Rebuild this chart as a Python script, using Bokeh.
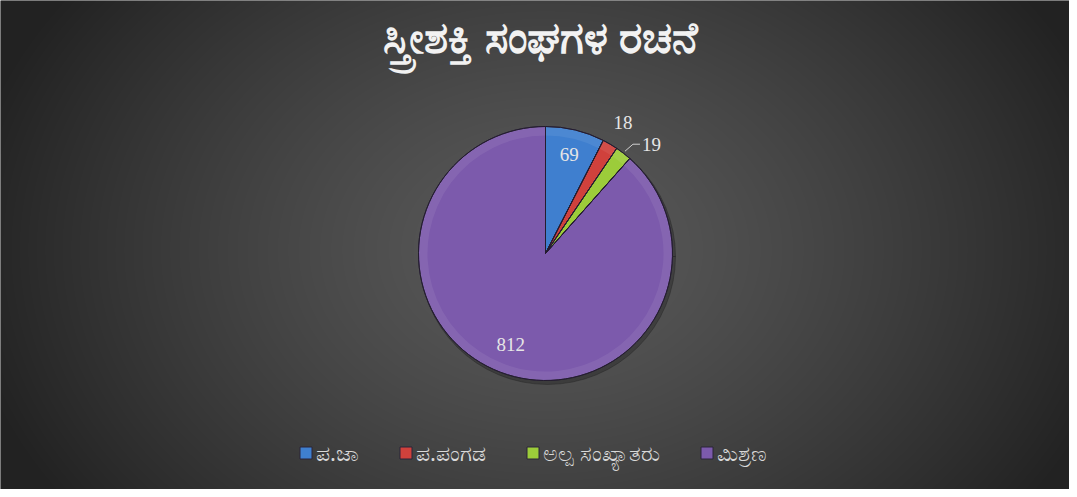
import numpy as np
from bokeh.plotting import figure
from bokeh.models import Range1d, Legend, LegendItem, ColumnDataSource
from bokeh.core.properties import value
from bokeh.embed import file_html
from bokeh.resources import INLINE

# ---- data ----
title_text = "ಸ್ತ್ರೀಶಕ್ತಿ ಸಂಘಗಳ ರಚನೆ"
categories = ["ಪ.ಜಾ", "ಪ.ಪಂಗಡ", "ಅಲ್ಪ ಸಂಖ್ಯಾತರು", "ಮಿಶ್ರಣ"]
counts = [69, 18, 19, 812]
colors = ["#3f7fcf", "#d0413c", "#9ccc3a", "#7c5aac"]

# ---- layout ----
W, H = 1069, 489
cx, cy = 545, 236          # pie centre (px in data units)
R = 127                    # pie radius (px)

p = figure(width=W, height=H, output_backend="svg", toolbar_location=None,
           x_range=Range1d(0, W), y_range=Range1d(0, H), min_border=0,
           outline_line_color=None, background_fill_color="#3a3a3a",
           border_fill_color="#3a3a3a")
p.axis.visible = False
p.grid.visible = False

# radial gradient background
yy, xx = np.mgrid[0:H, 0:W]
r = np.sqrt(((xx - cx) / 560.0) ** 2 + ((yy - (cy + 3)) / 420.0) ** 2)
v = np.clip(90 - 52 * r ** 1.3, 34, 255).astype(np.uint32)
img = (255 << 24) | (v << 16) | (v << 8) | v
p.image_rgba(image=[img.astype(np.uint32)], x=0, y=0, dw=W, dh=H)

# angles (clockwise from 12 o'clock)
total = float(sum(counts))
cum = np.cumsum([0] + counts)
start = [np.pi / 2 - 2 * np.pi * cum[i] / total for i in range(len(counts))]
end = [np.pi / 2 - 2 * np.pi * cum[i + 1] / total for i in range(len(counts))]
mid = [np.pi / 2 - 2 * np.pi * (cum[i] + cum[i + 1]) / 2 / total for i in range(len(counts))]

src = ColumnDataSource(dict(start=start, end=end, color=colors, cat=categories,
                            x=[cx] * 4, y=[cy] * 4))

# soft shadow
p.wedge(x=cx + 2, y=cy - 3, radius=R + 1, start_angle=0, end_angle=2 * np.pi,
        color="#1e1e1e", alpha=0.35)

wedges = p.wedge(x="x", y="y", radius=R, start_angle="start", end_angle="end",
                 direction="clock", fill_color="color", line_color="#2a2438",
                 line_width=1, source=src)
# bevel highlight / rim
p.annular_wedge(x="x", y="y", inner_radius=R - 9, outer_radius=R, start_angle="start",
                end_angle="end", direction="clock", fill_color="white", fill_alpha=0.07,
                line_color=None, source=src)
p.wedge(x="x", y="y", radius=R, start_angle="start", end_angle="end",
        direction="clock", fill_color=None, line_color="#241c30", line_width=1,
        source=src)

# data labels
lab_font = value("Liberation Serif")
inside_r = [0.80, None, None, 0.77]
for i, fr in enumerate(inside_r):
    if fr is not None:
        p.text(x=[cx + fr * R * np.cos(mid[i])], y=[cy + fr * R * np.sin(mid[i])],
               text=[str(counts[i])], text_font=lab_font, text_font_size="19px",
               text_color="#e6e6e6", text_align="center", text_baseline="middle")
# 18 outside
p.text(x=[cx + 1.2 * R * np.cos(mid[1])], y=[cy + 1.2 * R * np.sin(mid[1])],
       text=[str(counts[1])], text_font=lab_font, text_font_size="19px",
       text_color="#e6e6e6", text_align="center", text_baseline="middle")
# 19 outside with leader line
ex, ey = cx + 1.02 * R * np.cos(mid[2]), cy + 1.02 * R * np.sin(mid[2])
p.line(x=[ex, ex + 8, ex + 15], y=[ey, ey + 7, ey + 7], line_color="#cfcfcf", line_width=1)
p.text(x=[ex + 17], y=[ey + 7], text=[str(counts[2])], text_font=lab_font,
       text_font_size="19px", text_color="#e6e6e6", text_align="left",
       text_baseline="middle")

# title
p.text(x=[540], y=[H - 35], text=[title_text], text_font=value("Noto Sans"),
       text_font_size="44px", text_font_style="bold", text_color="#f2f2f2",
       text_align="center", text_baseline="middle")

# legend
items = [LegendItem(label=categories[i], renderers=[wedges], index=i) for i in range(4)]
legend = Legend(items=items, orientation="horizontal", location=(298, 22),
                background_fill_alpha=0, border_line_alpha=0,
                label_text_color="#d9d9d9", label_text_font_size="22px",
                label_text_font="Noto Sans",
                glyph_width=15, glyph_height=15, label_standoff=3, spacing=39,
                padding=0, margin=0)
p.add_layout(legend, "center")

open("out.html", "w").write(file_html(p, INLINE))
